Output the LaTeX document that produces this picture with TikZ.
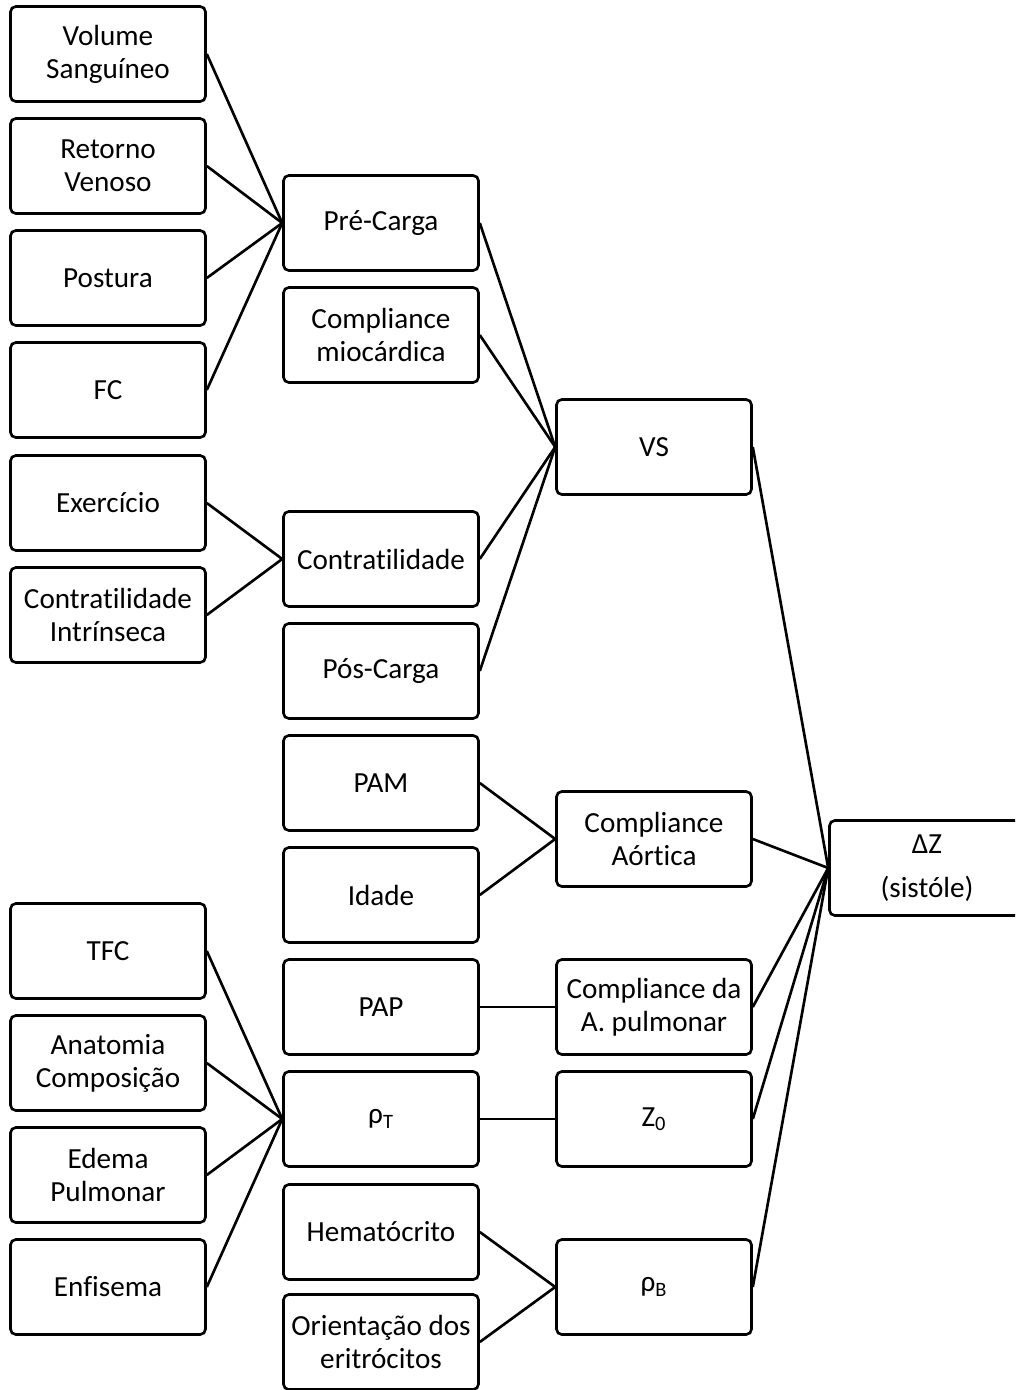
\documentclass[tikz,border=0pt]{standalone}
\usepackage{fontspec}
\setmainfont{Carlito}[Ligatures=NoCommon]
\usetikzlibrary{positioning}
\tikzset{
    caixa/.style={draw, line width=1.5pt, rounded corners=3pt, align=center,
        minimum width=3.9cm, minimum height=1.9cm, inner sep=1pt,
        font=\fontsize{16.6}{18.8}\selectfont},
    liga/.style={line width=1.5pt}
}
\begin{document}
\begin{tikzpicture}[x=0.02cm, y=-0.02cm]
        \clip (0,0) rectangle (1015,1390);
        % Nodes
        \node (n1) at (108,54) [caixa] {Volume\\Sanguíneo};
        \node (n2) at (108,166) [caixa] {Retorno\\Venoso};
        \node (n3) at (108,278) [caixa] {Postura};
        \node (n4) at (108,390) [caixa] {FC};
        \node (n5) at (108,503) [caixa] {Exercício};
        \node (n6) at (108,615) [caixa] {Contratilidade\\Intrínseca};
        \node (n7) at (108,951) [caixa] {TFC};
        \node (n8) at (108,1063) [caixa] {Anatomia\\Composição};
        \node (n9) at (108,1175) [caixa] {Edema\\Pulmonar};
        \node (n10) at (108,1287) [caixa] {Enfisema};
        % Middle nodes
        \node (n11) at (381,223) [caixa] {Pré-Carga};
        \node (n12) at (381,335) [caixa] {Compliance\\miocárdica};
        \node (n13) at (381,559) [caixa] {Contratilidade};
        \node (n14) at (381,671) [caixa] {Pós-Carga};
        \node (n15) at (381,783) [caixa] {PAM};
        \node (n16) at (381,895) [caixa] {Idade};
        \node (n17) at (381,1007) [caixa] {PAP};
        \node (n18) at (381,1119) [caixa] {ρ\textsubscript{T}};
        \node (n19) at (381,1232) [caixa] {Hematócrito};
        \node (n20) at (381,1342) [caixa] {Orientação dos\\eritrócitos};
        % Right nodes
        \node (n21) at (654,447) [caixa] {VS};
        \node (n22) at (654,839) [caixa] {Compliance\\Aórtica};
        \node (n23) at (654,1007) [caixa] {Compliance da\\A. pulmonar};
        \node (n24) at (654,1119) [caixa] {Z\textsubscript{0}};
        \node (n25) at (654,1287) [caixa] {ρ\textsubscript{B}};
        \node (n26) at (927,868) [caixa] {ΔZ\\[6pt](sistóle)};
        
        % Edges
        \foreach \i in {1,2,3,4} {
            \draw[liga] (n\i.east) -- (n11.west);
        }
        \foreach \i in {5,6} {
            \draw[liga] (n\i.east) -- (n13.west);
        }
        \foreach \i in {7,8,9,10} {
            \draw[liga] (n\i.east) -- (n18.west);
        }
        \foreach \i in {11,12,13,14} {
            \draw[liga] (n\i.east) -- (n21.west);
        }
        \foreach \i in {15,16} {
            \draw[liga] (n\i.east) -- (n22.west);
        }
        \foreach \i in {19,20} {
            \draw[liga] (n\i.east) -- (n25.west);
        }
        \foreach \i in {21,22,23,24,25} {
            \draw[liga] (n\i.east) -- (n26.west);
        }
        
        \draw[liga] (n17) -- (n23);
        \draw[liga] (n18) -- (n24);
    \end{tikzpicture}
\end{document}
